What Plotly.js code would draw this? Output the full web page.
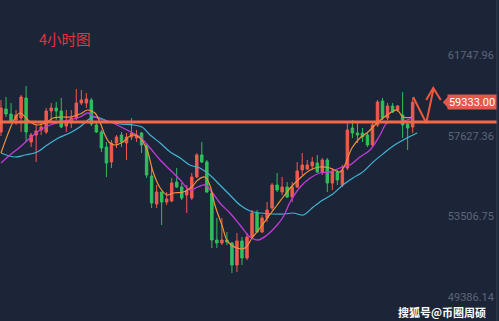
<!DOCTYPE html>
<html>
<head>
<meta charset="utf-8">
<script src="https://cdn.plot.ly/plotly-3.0.1.min.js"></script>
<style>
html,body{margin:0;padding:0;background:#1c2538;}
#chart{width:499px;height:321px;}
</style>
</head>
<body>
<div id="chart"></div>
<script>
// 4-hour candles (price values)
const openP = [57816,58990,58735,58429,58531,59552,57306,57663,57918,57816,
58888,59042,58888,58122,58378,58531,59297,59297,59450,58174,
57816,57050,56284,57254,57663,57254,57561,57510,57765,57152,
55570,54140,54753,54242,54293,55263,55008,54600,54446,55519,
56642,56284,54702,52302,52149,52302,52149,51025,52251,51383,
52455,53681,52710,53425,53936,55110,54753,55008,54498,55008,
55876,55927,56080,56233,55774,56386,55212,55774,55110,55978,
58020,57765,57765,57663,57152,58174,59399,58531,59144,58939,
58684,58225,58071];
const highP = [59450,59603,59297,58939,59705,60165,57765,58174,58327,59042,
59297,59348,59552,58939,58939,60012,59961,59807,59552,58327,
57918,57306,57408,57663,57816,57765,58531,57918,57816,57254,
56029,55110,54753,54753,55468,55978,55212,55110,55723,56744,
57306,56386,54753,53425,53425,52710,52200,52659,52455,52659,
53834,53834,53579,54242,55212,55723,55519,55263,55263,56284,
56744,56386,56540,56642,56489,56489,55978,55876,56131,58276,
58429,58276,58020,57816,58327,59450,59552,59297,59297,59195,
59858,58327,59552];
const lowP = [57612,58582,58327,58174,57816,57306,57050,56284,57663,57714,
58327,58429,58020,57816,58020,58429,59195,59042,58122,57765,
56795,55519,55978,56999,57050,56386,57408,57306,56744,55468,
53936,53936,53068,54089,54242,54957,54344,53681,54344,55468,
56233,54702,51893,51893,52047,52047,50617,50668,51025,51281,
52404,52659,52659,53221,53834,54753,54600,54446,54242,54957,
55621,55876,55876,55723,55621,54753,54855,55110,55008,55876,
57510,57254,57306,57050,57050,58071,58429,58429,58786,58837,
57510,56897,57765];
const closeP = [59042,58735,58378,58684,59603,57816,57663,57867,58071,58888,
59042,58888,58071,58378,58531,59297,59450,59501,58225,57816,
56999,56233,57254,57561,57306,57561,57765,57663,57152,55621,
54191,54753,54242,54395,55212,55008,54446,54804,55519,56642,
56284,54753,52302,52149,52302,52200,51025,52251,51383,52455,
53681,52710,53425,53834,55110,54855,55008,54498,55008,55825,
56131,56131,56284,55774,56386,55212,55825,55365,55876,57918,
57765,57663,57561,57152,58174,59348,58531,59144,58837,59144,
58174,58020,59333];

// Moving average lines (x = candle position)
const maFastX = [0,2.8,3.8,5.8,7.2,8.8,10.4,12.2,13.8,15.7,17.3,18.7,19.7,20.7,21.7,22.7,24.3,26.1,27.7,29.1,30.3,31.7,33.1,34.3,36.3,38.0,39.2,40.6,41.6,42.6,44.0,45.2,47.0,48.6,50.0,51.6,53.2,55.0,56.2,57.6,59.6,61.6,63.5,65.5,67.5,68.5,69.9,71.5,73.1,74.9,76.1,77.5,78.9,80.1,81.9];
const maFastY = [56744,58531,58786,58327,58174,58276,58531,58582,58582,58735,58939,58786,58327,57663,57254,57152,57306,57663,57510,56897,55774,54957,54600,54702,54753,55008,55365,55519,55110,54089,53068,52200,51893,51893,52404,52915,53477,54089,54498,54957,55468,55876,56029,55978,55774,56131,56999,57510,57816,58276,58531,58786,58939,58582,58582];
const maMidX = [0,1.8,3.8,5.8,7.8,9.8,11.8,13.7,15.7,17.3,18.7,20.3,22.3,24.3,26.3,27.9,29.7,31.7,33.7,35.7,37.6,39.2,40.6,42.0,43.6,45.6,47.6,49.6,51.2,53.0,55.0,56.2,57.6,59.6,61.6,63.5,65.5,67.5,69.5,71.5,73.5,75.5,76.9,78.9,80.9,82.1];
const maMidY = [56233,56642,57050,57510,57918,58174,58327,58429,58582,58786,58582,58429,58276,58020,57765,57510,56999,56386,55876,55365,54855,55008,55110,54753,54191,53681,53068,52455,52302,52557,53068,53477,54242,55008,55468,55723,55774,55978,56131,56540,56897,57663,58276,58327,58429,58582];
const maSlowX = [0,2.8,4.8,7.2,9.2,11.4,13.7,15.7,17.3,18.3,19.7,21.7,23.7,26.3,28.1,29.7,31.7,33.7,35.7,37.6,39.6,41.6,43.6,45.6,47.6,49.6,51.6,54.2,56.6,58.2,60.2,62.2,64.1,66.1,68.1,70.1,72.1,74.1,76.1,78.1,80.1,82.9];
const maSlowY = [56744,56540,56642,56795,57152,57510,57765,58071,58429,58582,58531,58327,58225,58174,58071,57663,57254,56795,56489,56131,55978,55621,55110,54600,54089,53783,53681,53630,53630,53681,53579,53987,54344,54650,55110,55470,55780,56280,56700,57100,57408,57765];

const tickVals = [61747.96,57627.36,53506.75,49386.14];
const tickText = ['61747.96','57627.36','53506.75','49386.14'];
const lastPrice = 59333.00;
const levelPrice = 58327;
const titleText = '4小时图';
const watermark = '搜狐号@币圈周硕';
// hand-drawn arrow (candle position, price)
const arrowX = [82.1,84.7,86.1];
const arrowY = [59603,58276,59961];
const headX = [84.7,86.1,87.6];
const headY = [59450,60063,59450];

const idx = openP.map((_, i) => i);
const RED = '#ee5b4d', GREEN = '#2fbf5c';

const traces = [
  {type:'candlestick', x:idx, open:openP, high:highP, low:lowP, close:closeP,
   increasing:{line:{color:RED,width:1}, fillcolor:RED},
   decreasing:{line:{color:GREEN,width:1}, fillcolor:GREEN},
   whiskerwidth:0, hoverinfo:'skip', showlegend:false},
  {type:'scatter', mode:'lines', x:maSlowX, y:maSlowY, line:{color:'#3fb5d4',width:1.2,shape:'spline'}, showlegend:false, hoverinfo:'skip'},
  {type:'scatter', mode:'lines', x:maMidX, y:maMidY, line:{color:'#c43ad8',width:1.3,shape:'spline'}, showlegend:false, hoverinfo:'skip'},
  {type:'scatter', mode:'lines', x:maFastX, y:maFastY, line:{color:'#f0923c',width:1.2,shape:'spline'}, showlegend:false, hoverinfo:'skip'},
  {type:'scatter', mode:'lines', x:arrowX, y:arrowY, line:{color:'#f0583e',width:2}, showlegend:false, hoverinfo:'skip'},
  {type:'scatter', mode:'lines', x:headX, y:headY, line:{color:'#f0583e',width:2}, showlegend:false, hoverinfo:'skip'}
];

const layout = {
  width:499, height:321,
  margin:{l:0, r:2, t:0, b:0},
  paper_bgcolor:'#1c2538', plot_bgcolor:'#1c2538',
  showlegend:false,
  xaxis:{range:[-0.2,98.8], visible:false, showgrid:false, zeroline:false, rangeslider:{visible:false}, fixedrange:true},
  yaxis:{range:[48166,64556], side:'right', ticklabelposition:'inside', tickvals:tickVals, ticktext:tickText,
         showgrid:false, zeroline:false, showline:false, ticks:'',
         tickfont:{family:'Roboto, Arial, sans-serif', size:11, color:'#5d6678'}, fixedrange:true},
  shapes:[
    {type:'line', xref:'paper', yref:'y', x0:0, x1:1, y0:levelPrice, y1:levelPrice, line:{color:'#f26a48', width:3}},
    {type:'line', xref:'paper', yref:'paper', x0:1, x1:1, y0:0, y1:1, line:{color:'#354055', width:1}},
    {type:'path', xref:'paper', yref:'y', path:'M 0.891 59333 L 0.904 59690 L 0.904 58976 Z', fillcolor:'#e5574b', line:{width:0}}
  ],
  annotations:[
    {text:titleText, xref:'paper', yref:'paper', x:37/497, y:1-38/321, xanchor:'left', yanchor:'middle', showarrow:false,
     font:{family:'Noto Sans CJK SC, sans-serif', size:14.5, color:'#e8323c'}},
    {text:lastPrice.toFixed(2), xref:'paper', yref:'y', x:1, y:lastPrice, xanchor:'right', yanchor:'middle', showarrow:false,
     bgcolor:'#e5574b', borderpad:1, width:46, height:12,
     font:{family:'Roboto, Arial, sans-serif', size:11, color:'#ffffff'}},
    {text:'<b>'+watermark+'</b>', xref:'paper', yref:'paper', x:487/497, y:1-312/321, xanchor:'right', yanchor:'middle', showarrow:false,
     borderpad:0, font:{family:'Noto Sans CJK SC, sans-serif', size:11, color:'#ffffff'}}
  ]
};

Plotly.newPlot('chart', traces, layout, {displayModeBar:false, staticPlot:true});
</script>
</body>
</html>
